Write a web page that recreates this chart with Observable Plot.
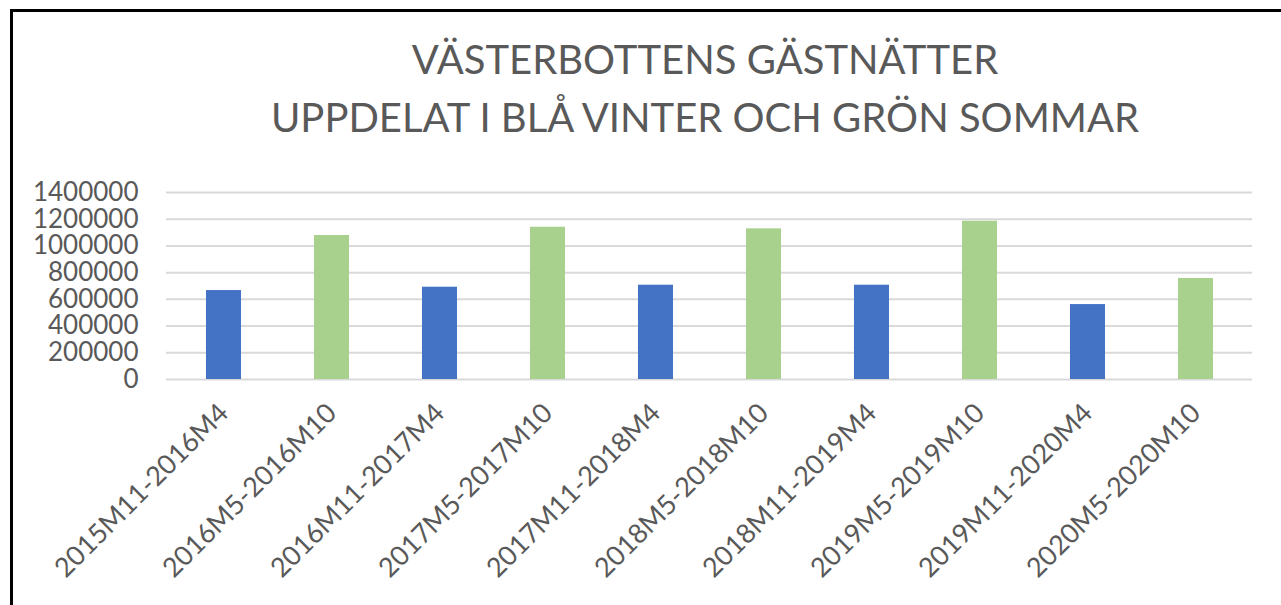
<!DOCTYPE html>
<html>
<head>
<meta charset="utf-8">
<script src="https://cdn.jsdelivr.net/npm/d3@7"></script>
<script src="https://cdn.jsdelivr.net/npm/@observablehq/plot@0.6"></script>
<style>
  html, body { margin: 0; padding: 0; background: #fff; }
  #wrap { position: relative; width: 1281px; height: 605px; overflow: hidden; font-family: Lato, "Open Sans", sans-serif; }
  #frame { position: absolute; left: 10px; top: 9px; width: 2000px; height: 2000px; border-left: 3px solid #000; border-top: 3px solid #000; }
  #title { position: absolute; left: 0; width: 1410px; top: 30px; text-align: center; color: #595959; font-size: 40px; line-height: 58px; }
  #chart { position: absolute; left: 0; top: 170px; }
</style>
</head>
<body>
<div id="wrap">
  <div id="frame"></div>
  <div id="title">VÄSTERBOTTENS GÄSTNÄTTER<br>UPPDELAT I BLÅ VINTER OCH GRÖN SOMMAR</div>
  <div id="chart"></div>
</div>
<script>
const periods = ["2015M11-2016M4","2016M5-2016M10","2016M11-2017M4","2017M5-2017M10","2017M11-2018M4","2018M5-2018M10","2018M11-2019M4","2019M5-2019M10","2019M11-2020M4","2020M5-2020M10"];
const nights = [666000, 1078000, 691000, 1140000, 706000, 1128000, 706000, 1185000, 561000, 756000];
const seasons = ["vinter","sommar","vinter","sommar","vinter","sommar","vinter","sommar","vinter","sommar"];
const yTicks = [0, 200000, 400000, 600000, 800000, 1000000, 1200000, 1400000];
const seasonNames = ["vinter","sommar"];
const seasonColors = ["#4472C4","#A9D18E"];

const data = periods.map((p, i) => ({period: p, value: nights[i], season: seasons[i]}));

const chart = Plot.plot({
  width: 1281,
  height: 435,
  marginLeft: 166,
  marginRight: 29,
  marginTop: 22,
  marginBottom: 226,
  style: {fontFamily: "Lato, 'Open Sans', sans-serif", color: "#595959", background: "transparent"},
  x: {domain: periods, paddingInner: 0.68, paddingOuter: 0.34, label: null},
  y: {domain: [0, 1400000], ticks: yTicks, label: null},
  color: {domain: seasonNames, range: seasonColors},
  marks: [
    Plot.ruleY(yTicks, {stroke: "#d9d9d9", strokeWidth: 2}),
    Plot.barY(data, {x: "period", y: "value", fill: "season"}),
    Plot.axisY(yTicks, {tickSize: 0, tickPadding: 28, tickFormat: d => String(d), fontSize: 26, fill: "#595959", label: null}),
    Plot.axisX({tickSize: 0, tickPadding: 29, tickRotate: -45, fontSize: 27, fill: "#595959", label: null})
  ]
});
document.getElementById("chart").appendChild(chart);
</script>
</body>
</html>
